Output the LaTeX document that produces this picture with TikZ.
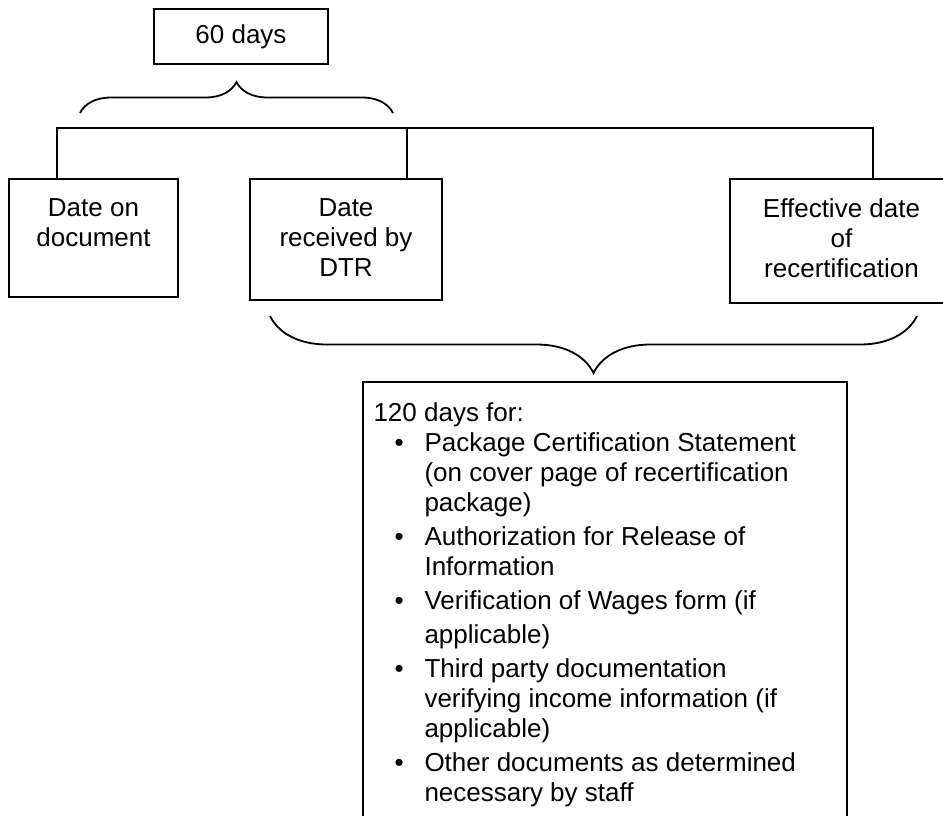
\documentclass[tikz,border=0pt]{standalone}
\usepackage{fontspec}
\setmainfont{Liberation Sans}
\usetikzlibrary{decorations.pathreplacing}
\newcommand{\bitem}{\makebox[51pt][l]{\hspace{21pt}\textbullet}}
\newcommand{\bcont}{\hspace*{51pt}}

\begin{document}
\begin{tikzpicture}[x=1pt,y=-1pt]
    \tikzstyle{every node}=[font=\fontsize{26}{30}\selectfont]
    \tikzstyle{box}=[draw, line width=2pt, inner sep=0pt, anchor=north west]
    \tikzstyle{inside}=[anchor=north, align=center, yshift=-17pt]
    \tikzstyle{listtext}=[anchor=north west, align=left, xshift=8pt, yshift=-18pt]
    \tikzstyle{wire}=[line width=2pt]
    \tikzstyle{curly}=[decorate, line width=1.8pt]

    \useasboundingbox (0,0) rectangle (943,816);
    \node[box, minimum width=174pt, minimum height=55pt] (sixty) at (153,8) {60 days};
    \node[box, minimum width=169pt, minimum height=118pt,
        label={[inside]north:{Date on\\document}}] (doc) at (8,178) {};
    \node[box, minimum width=192pt, minimum height=121pt,
        label={[inside]north:{Date\\received by\\DTR}}] (dtr) at (249,178) {};
    \node[box, minimum width=223pt, minimum height=124pt,
        label={[inside]north:{Effective date\\of\\recertification}}] (eff) at (729,178) {};
    \node[box, minimum width=484pt, minimum height=470pt,
        label={[listtext]north west:{120 days for:\\
            \bitem Package Certification Statement\\
            \bcont (on cover page of recertification\\
            \bcont package)\\[4pt]
            \bitem Authorization for Release of\\
            \bcont Information\\[4pt]
            \bitem Verification of Wages form (if\\[4pt]
            \bcont applicable)\\[4pt]
            \bitem Third party documentation\\
            \bcont verifying income information (if\\
            \bcont applicable)\\[4pt]
            \bitem Other documents as determined\\
            \bcont necessary by staff}}] (list) at (362,381) {};

    % tree above the three dates
    \coordinate (bar) at (0,128);
    \coordinate (t1) at ([xshift=49pt]doc.north west);
    \coordinate (t2) at ([xshift=158pt]dtr.north west);
    \coordinate (t3) at ([xshift=144pt]eff.north west);
    \draw[wire] (t1) |- (bar -| t3) -- (t3);
    \draw[wire] (t2) -- (t2 |- bar);

    % braces
    \coordinate (b1) at (80,113);
    \coordinate (b2) at (393,113);
    \coordinate (b3) at (917,316);
    \coordinate (b4) at (270,316);
    \draw[curly, decoration={brace, amplitude=31pt}] (b1) -- (b2);
    \draw[curly, decoration={brace, amplitude=57pt}] (b3) -- (b4);
\end{tikzpicture}
\end{document}
